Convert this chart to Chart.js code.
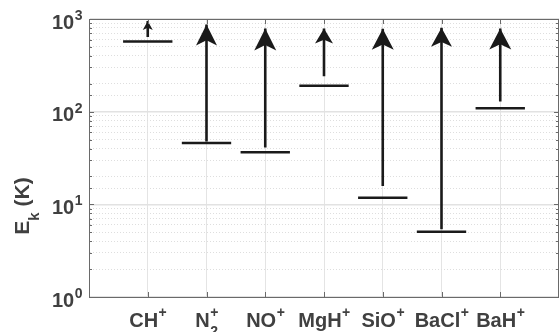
<!DOCTYPE html>
<html>
<head>
<meta charset="utf-8">
<script src="https://cdn.jsdelivr.net/npm/chart.js@4"></script>
<style>
html,body{margin:0;padding:0;background:#fff;}
#wrap{width:559px;height:332px;position:relative;}
</style>
</head>
<body>
<div id="wrap"><canvas id="c" width="559" height="332"></canvas></div>
<script>
// ---- data ----
const categories = ['CH', 'N', 'NO', 'MgH', 'SiO', 'BaCl', 'BaH'];
const catSub = ['', '2', '', '', '', '', ''];
const catSup = ['+', '+', '+', '+', '+', '+', '+'];
const levels = [571, 46, 36.5, 190, 11.8, 5.05, 109];
const arrowFrom = [641, 47.7, 41, 241, 15.8, 5.4, 129];
const arrowTo = [950, 872, 789, 789, 784, 803, 789];
const yTickValues = [1, 10, 100, 1000];
const yTickBase = ['10', '10', '10', '10'];
const yTickExp = ['0', '1', '2', '3'];
const yTitleMain = 'E';
const yTitleSub = 'k';
const yTitleRest = ' (K)';

// ---- style ----
const HEADS = [[10, 9], [21, 21], [22, 22], [18, 15], [22, 21], [21, 19], [22, 21]]; // [width, length] px
const LEVEL_HALF = 0.42;
const TEXT = '#404040';
const AXIS = '#6a6a6a';
const INK = '#1a1a1a';
const FONT = '"Liberation Sans", Arial, Helvetica, sans-serif';

const levelData = [];
const stemData = [];
categories.forEach((c, i) => {
  const x = i + 1;
  levelData.push({x: x - LEVEL_HALF, y: levels[i]}, {x: x + LEVEL_HALF, y: levels[i]}, {x: x, y: null});
  stemData.push({x: x, y: arrowFrom[i]}, {x: x, y: arrowTo[i]}, {x: x + 0.5, y: null});
});

const isMajor = v => Math.abs(Math.log10(v) - Math.round(Math.log10(v))) < 1e-9;

const decor = {
  id: 'decor',
  afterDatasetsDraw(chart) {
    const {ctx, chartArea: a, scales: {x, y}} = chart;
    // arrow heads
    ctx.save();
    ctx.fillStyle = INK;
    categories.forEach((c, i) => {
      const px = x.getPixelForValue(i + 1);
      const ty = y.getPixelForValue(arrowTo[i]);
      const [w, l] = HEADS[i];
      ctx.beginPath();
      ctx.moveTo(px, ty);
      ctx.lineTo(px + w / 2, ty + l);
      ctx.lineTo(px, ty + l * 0.75);
      ctx.lineTo(px - w / 2, ty + l);
      ctx.closePath();
      ctx.fill();
    });
    ctx.restore();
  },
  afterDraw(chart) {
    const {ctx, chartArea: a, scales: {x, y}} = chart;
    ctx.save();
    // box top & right
    ctx.strokeStyle = AXIS;
    ctx.lineWidth = 1;
    ctx.beginPath();
    ctx.moveTo(a.left, Math.round(a.top) + 0.5);
    ctx.lineTo(a.right, Math.round(a.top) + 0.5);
    ctx.moveTo(a.right - 0.5, a.top);
    ctx.lineTo(a.right - 0.5, a.bottom);
    ctx.stroke();
    // inner ticks on y
    ctx.beginPath();
    y.ticks.forEach(t => {
      const py = Math.round(y.getPixelForValue(t.value)) + 0.5;
      const len = isMajor(t.value) ? 5 : 3;
      ctx.moveTo(a.left, py); ctx.lineTo(a.left + len, py);
      ctx.moveTo(a.right, py); ctx.lineTo(a.right - len, py);
    });
    // inner ticks on x
    categories.forEach((c, i) => {
      const px = Math.round(x.getPixelForValue(i + 1)) + 0.5;
      ctx.moveTo(px, a.top); ctx.lineTo(px, a.top + 5);
      ctx.moveTo(px, a.bottom); ctx.lineTo(px, a.bottom - 5);
    });
    ctx.stroke();

    // y tick labels 10^n
    ctx.fillStyle = TEXT;
    ctx.textBaseline = 'alphabetic';
    yTickValues.forEach((v, i) => {
      const py = y.getPixelForValue(v);
      ctx.font = 'bold 14px ' + FONT;
      const supW = ctx.measureText(yTickExp[i]).width;
      const right = 82.5;
      ctx.textAlign = 'right';
      ctx.fillText(yTickExp[i], right, py + 1);
      ctx.font = 'bold 20px ' + FONT;
      ctx.fillText(yTickBase[i], right - supW - 0.5, py + 9.5);
    });

    // x labels
    categories.forEach((c, i) => {
      const px = x.getPixelForValue(i + 1);
      ctx.font = 'bold 20px ' + FONT;
      const mw = ctx.measureText(c).width;
      ctx.font = 'bold 14px ' + FONT;
      const sw = Math.max(ctx.measureText(catSup[i]).width, ctx.measureText(catSub[i]).width);
      const left = px - (mw + sw) / 2;
      ctx.textAlign = 'left';
      ctx.font = 'bold 20px ' + FONT;
      ctx.fillText(c, left, 327);
      ctx.font = 'bold 14px ' + FONT;
      ctx.fillText(catSup[i], left + mw + 0.5, 317);
      if (catSub[i]) ctx.fillText(catSub[i], left + mw + 0.5, 336);
    });

    // y title
    ctx.save();
    ctx.translate(28.5, (a.top + a.bottom) / 2 + 48);
    ctx.rotate(-Math.PI / 2);
    ctx.font = 'bold 21px ' + FONT;
    const w1 = ctx.measureText(yTitleMain).width;
    const w3 = ctx.measureText(yTitleRest).width;
    ctx.font = 'bold 15px ' + FONT;
    const w2 = ctx.measureText(yTitleSub).width;
    let sx = -(w1 + w2 + w3) / 2;
    ctx.textAlign = 'left';
    ctx.font = 'bold 21px ' + FONT;
    ctx.fillText(yTitleMain, sx, 0);
    ctx.font = 'bold 15px ' + FONT;
    ctx.fillText(yTitleSub, sx + w1, 10.5);
    ctx.font = 'bold 21px ' + FONT;
    ctx.fillText(yTitleRest, sx + w1 + w2, 0);
    ctx.restore();

    ctx.restore();
  }
};

new Chart(document.getElementById('c'), {
  type: 'line',
  data: {
    datasets: [
      {label: 'levels', data: levelData, borderColor: INK, borderWidth: 2.5, pointRadius: 0, spanGaps: false, borderCapStyle: 'butt', tension: 0},
      {label: 'arrows', data: stemData, borderColor: INK, borderWidth: 2.6, pointRadius: 0, spanGaps: false, borderCapStyle: 'butt', tension: 0}
    ]
  },
  options: {
    responsive: false,
    animation: false,
    devicePixelRatio: 1,
    layout: {padding: {left: 89, right: 0, top: 19, bottom: 35}},
    plugins: {legend: {display: false}, tooltip: {enabled: false}},
    scales: {
      x: {
        type: 'linear', min: 0, max: 8,
        ticks: {display: false, stepSize: 1},
        afterBuildTicks: s => { s.ticks = categories.map((c, i) => ({value: i + 1})); },
        grid: {color: '#e4e4e4', lineWidth: 1, drawTicks: false},
        border: {display: true, color: AXIS, width: 1}
      },
      y: {
        type: 'logarithmic', min: 1, max: 1000,
        ticks: {display: false},
        grid: {
          drawTicks: false,
          color: ctx => (ctx.tick && isMajor(ctx.tick.value)) ? '#e2e2e2' : '#dedede',
          lineWidth: ctx => (ctx.tick && isMajor(ctx.tick.value)) ? 1.5 : 1
        },
        border: {
          display: true, color: AXIS, width: 1,
          dash: ctx => (ctx.tick && !isMajor(ctx.tick.value)) ? [1, 2] : []
        }
      }
    }
  },
  plugins: [decor]
});
</script>
</body>
</html>
